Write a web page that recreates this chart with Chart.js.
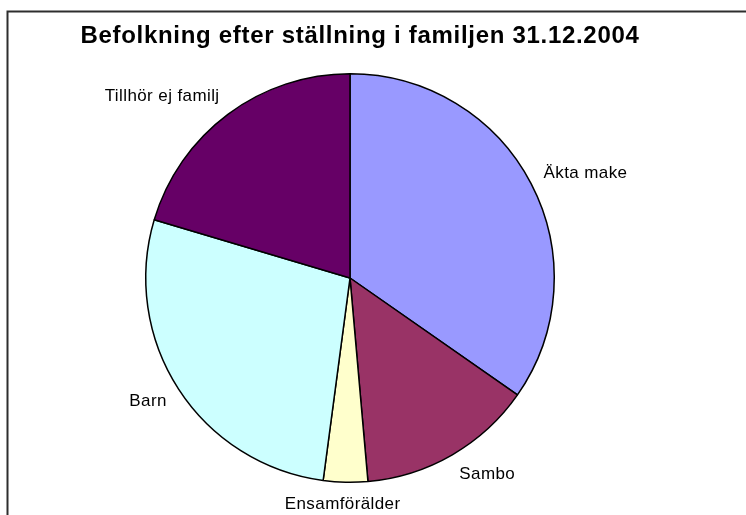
<!DOCTYPE html>
<html>
<head>
<meta charset="utf-8">
<script src="https://cdn.jsdelivr.net/npm/chart.js@4"></script>
<style>
 body { margin: 0; background: #fff; }
 canvas { display: block; }
</style>
</head>
<body>
<canvas id="pieChart" width="746" height="515"></canvas>
<script>
 // Data (share of population, %)
 const categories = ['Äkta make', 'Sambo', 'Ensamförälder', 'Barn', 'Tillhör ej familj'];
 const shares = [34.7, 13.9, 3.5, 27.5, 20.4];
 const sliceColors = ['#9999FF', '#993366', '#FFFFCC', '#CCFFFF', '#660066'];
 const chartTitle = 'Befolkning efter ställning i familjen 31.12.2004';

 // Frame + title
 const framePlugin = {
  id: 'frame',
  beforeDraw(chart) {
  const ctx = chart.ctx;
  ctx.save();
  ctx.strokeStyle = '#2e2e2e';
  ctx.lineWidth = 2;
  ctx.strokeRect(7.5, 11.5, 760, 520);
  ctx.fillStyle = '#000';
  ctx.font = 'bold 24px "Liberation Sans", Arial, sans-serif';
  ctx.letterSpacing = '0.7px';
  ctx.textAlign = 'center';
  ctx.textBaseline = 'alphabetic';
  ctx.fillText(chartTitle, 360, 42.5);
  ctx.restore();
  }
 };

 // Labels outside the slices
 const labelPlugin = {
  id: 'sliceLabels',
  afterDatasetsDraw(chart) {
  const ctx = chart.ctx;
  const arcs = chart.getDatasetMeta(0).data;
  ctx.save();
  ctx.fillStyle = '#000';
  ctx.font = '17px "Liberation Sans", Arial, sans-serif';
  ctx.letterSpacing = '0.4px';
  ctx.textAlign = 'center';
  ctx.textBaseline = 'middle';
  arcs.forEach((arc, i) => {
  const mid = (arc.startAngle + arc.endAngle) / 2;
  const r = arc.outerRadius + 14;
  const halfW = ctx.measureText(categories[i]).width / 2;
  const kx = Math.max(-1, Math.min(1, Math.cos(mid) * 2));
  const x = arc.x + Math.cos(mid) * r + halfW * kx;
  const y = arc.y + Math.sin(mid) * r + 8 * Math.sin(mid);
  ctx.fillText(categories[i], x, y);
  });
  ctx.restore();
  }
 };

 new Chart(document.getElementById('pieChart'), {
  type: 'pie',
  data: {
  labels: categories,
  datasets: [{
  data: shares,
  backgroundColor: sliceColors,
  borderColor: '#000',
  borderWidth: 1.5
  }]
  },
  options: {
  responsive: false,
  animation: false,
  layout: { padding: { left: 145, right: 191, top: 73, bottom: 32 } },
  plugins: {
  legend: { display: false },
  tooltip: { enabled: false },
  title: { display: false }
  }
  },
  plugins: [framePlugin, labelPlugin]
 });
</script>
</body>
</html>
